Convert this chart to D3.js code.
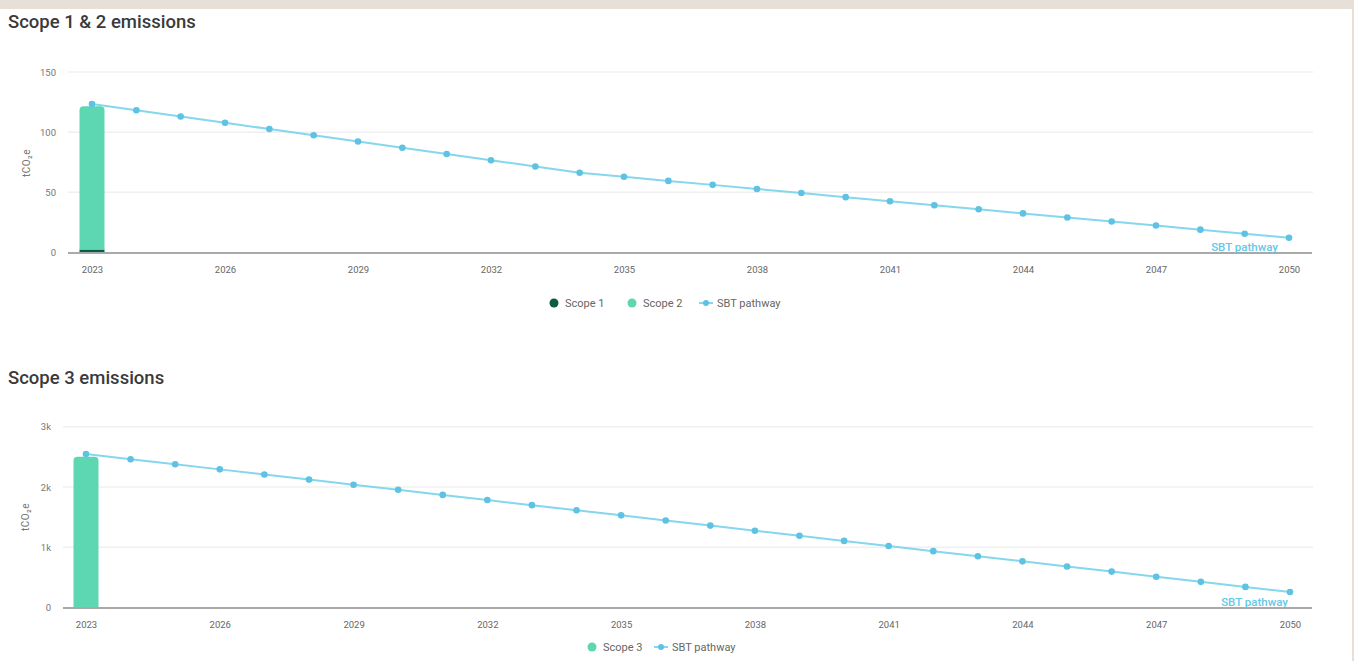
<!DOCTYPE html>
<html>
<head>
<meta charset="utf-8">
<script src="https://cdn.jsdelivr.net/npm/d3@7"></script>
<style>
  body { margin: 0; background: #fff; }
  svg { display: block; font-family: Roboto, "Noto Sans", sans-serif; }
</style>
</head>
<body>
<main></main>
<script>
// years shown on both charts
const years = d3.range(2023, 2051);
const yearTicks = [2023, 2026, 2029, 2032, 2035, 2038, 2041, 2044, 2047, 2050];

// Scope 1 & 2 (tCO2e), only 2023 has actuals
const scope1 = [{year: 2023, value: 2.5}];
const scope2 = [{year: 2023, value: 119}];
const sbt12 = [123.4, 118.2, 113.0, 107.8, 102.6, 97.4, 92.2, 87.0, 81.9, 76.7,
    71.5, 66.3, 62.9, 59.5, 56.2, 52.8, 49.4, 46.0, 42.6, 39.3,
    35.9, 32.5, 29.1, 25.7, 22.4, 19.0, 15.6, 12.2];
const ticks12 = [0, 50, 100, 150];

// Scope 3
const scope3 = [{year: 2023, value: 2500}];
const sbt3 = [2546, 2461, 2376, 2292, 2207, 2122, 2037, 1953, 1868, 1783,
    1698, 1613, 1529, 1444, 1359, 1274, 1190, 1105, 1020, 935,
    850, 766, 681, 596, 511, 426, 342, 257];
const ticks3 = [0, 1000, 2000, 3000];

const colors = {scope1: "#0c5b45", scope2: "#5dd6b2", line: "#84d7ec", dot: "#5ec2e3"};

const svg = d3.select("main").append("svg")
    .attr("width", 1354)
    .attr("height", 661);

// beige frame bits
svg.append("rect").attr("x", 0).attr("y", 0).attr("width", 1354).attr("height", 9).attr("fill", "#e6e0d8");
svg.append("rect").attr("x", 1352).attr("y", 0).attr("width", 2).attr("height", 661).attr("fill", "#e6e0d8");

const drawChart = (opt) => {
    const g = svg.append("g");

    g.append("text")
        .attr("x", 8).attr("y", opt.titleY)
        .attr("font-size", 18.5).attr("font-weight", 500)
        .attr("fill", "#3a3a3a")
        .text(opt.title);

    const x = d3.scaleLinear().domain([2023, 2050]).range(opt.xRange);
    const y = d3.scaleLinear().domain([0, opt.max]).range(opt.yRange);

    // gridlines
    g.selectAll(".grid")
        .data(opt.ticks.slice(1))
        .enter().append("line")
        .attr("x1", opt.gridX[0]).attr("x2", opt.gridX[1])
        .attr("y1", d => y(d)).attr("y2", d => y(d))
        .attr("stroke", "#f0f0f0").attr("stroke-width", 1.5);

    // y axis labels
    const yAxis = d3.axisLeft(y).tickValues(opt.ticks).tickSize(0).tickPadding(0)
        .tickFormat(opt.fmt);
    g.append("g")
        .attr("transform", "translate(" + opt.yLabelX + ",0)")
        .call(yAxis)
        .call(s => s.select(".domain").remove())
        .call(s => s.selectAll("text").attr("font-size", 9.5).attr("fill", "#777")
            .attr("font-family", "Roboto, sans-serif"));

    g.append("text")
        .attr("transform", "translate(" + opt.unitX + "," + opt.unitY + ") rotate(-90)")
        .attr("text-anchor", "middle")
        .attr("font-size", 10).attr("fill", "#777")
        .attr("letter-spacing", 0.5)
        .text("tCO₂e");

    // bars
    const bw = 25;
    let stackBase = 0;
    opt.bars.forEach(b => {
        b.data.forEach(d => {
            const top = y(stackBase + d.value), bottom = y(stackBase);
            const r = b.rounded ? 4 : 0;
            const x0 = x(d.year) - bw / 2;
            g.append("path")
                .attr("d", "M" + x0 + "," + bottom + "V" + (top + r)
                    + "Q" + x0 + "," + top + " " + (x0 + r) + "," + top
                    + "H" + (x0 + bw - r)
                    + "Q" + (x0 + bw) + "," + top + " " + (x0 + bw) + "," + (top + r)
                    + "V" + bottom + "Z")
                .attr("fill", b.color);
            stackBase += d.value;
        });
    });

    // baseline
    g.append("line")
        .attr("x1", opt.gridX[0]).attr("x2", 1312)
        .attr("y1", y(0) + 0.5).attr("y2", y(0) + 0.5)
        .attr("stroke", "#a9a9a9").attr("stroke-width", 2);

    // x axis labels
    const xAxis = d3.axisBottom(x).tickValues(yearTicks).tickSize(0).tickPadding(0)
        .tickFormat(d3.format("d"));
    g.append("g")
        .attr("transform", "translate(0," + (y(0) + 17) + ")")
        .call(xAxis)
        .call(s => s.select(".domain").remove())
        .call(s => s.selectAll("text").attr("font-size", 9.5).attr("fill", "#666")
            .attr("font-family", "Roboto, sans-serif").attr("dy", "0.35em"));

    // SBT pathway line
    const pts = years.map((yr, i) => ({year: yr, value: opt.sbt[i]}));
    const line = d3.line().x(d => x(d.year)).y(d => y(d.value));
    g.append("path")
        .datum(pts)
        .attr("fill", "none")
        .attr("stroke", colors.line)
        .attr("stroke-width", 2)
        .attr("d", line);
    g.selectAll(".dot")
        .data(pts)
        .enter().append("circle")
        .attr("cx", d => x(d.year)).attr("cy", d => y(d.value))
        .attr("r", 3.3)
        .attr("fill", colors.dot);

    g.append("text")
        .attr("x", opt.sbtLabelX).attr("y", y(0) - 1.5)
        .attr("text-anchor", "end")
        .attr("font-size", 11.5).attr("font-weight", 500)
        .attr("fill", "#62c9e8")
        .text("SBT pathway");

    // legend
    const lg = g.append("g").attr("transform", "translate(0," + opt.legendY + ")");
    opt.legend.forEach(item => {
        if (item.type === "dot") {
            lg.append("circle").attr("cx", item.x).attr("cy", 0).attr("r", 4.5).attr("fill", item.color);
        } else {
            lg.append("line").attr("x1", item.x - 7).attr("x2", item.x + 7)
                .attr("y1", 0).attr("y2", 0).attr("stroke", colors.line).attr("stroke-width", 2);
            lg.append("circle").attr("cx", item.x).attr("cy", 0).attr("r", 3).attr("fill", colors.dot);
        }
        lg.append("text")
            .attr("x", item.x + 11).attr("y", 0).attr("dy", "0.35em")
            .attr("font-size", 11).attr("fill", "#666")
            .text(item.label);
    });
};

drawChart({
    title: "Scope 1 & 2 emissions", titleY: 28,
    xRange: [92, 1289], yRange: [252.5, 72], max: 150,
    gridX: [68, 1313], ticks: ticks12, fmt: d3.format("d"),
    yLabelX: 56, unitX: 30, unitY: 163,
    bars: [{data: scope1, color: colors.scope1, rounded: false},
        {data: scope2, color: colors.scope2, rounded: true}],
    sbt: sbt12, sbtLabelX: 1278,
    legendY: 303,
    legend: [{type: "dot", x: 554, color: colors.scope1, label: "Scope 1"},
        {type: "dot", x: 632, color: colors.scope2, label: "Scope 2"},
        {type: "line", x: 706, label: "SBT pathway"}]
});

drawChart({
    title: "Scope 3 emissions", titleY: 384,
    xRange: [86, 1290], yRange: [607.5, 426.7], max: 3000,
    gridX: [63, 1313], ticks: ticks3, fmt: d => d === 0 ? "0" : (d / 1000) + "k",
    yLabelX: 51, unitX: 29, unitY: 517,
    bars: [{data: scope3, color: colors.scope2, rounded: true}],
    sbt: sbt3, sbtLabelX: 1288,
    legendY: 647,
    legend: [{type: "dot", x: 592, color: colors.scope2, label: "Scope 3"},
        {type: "line", x: 661, label: "SBT pathway"}]
});
</script>
</body>
</html>
